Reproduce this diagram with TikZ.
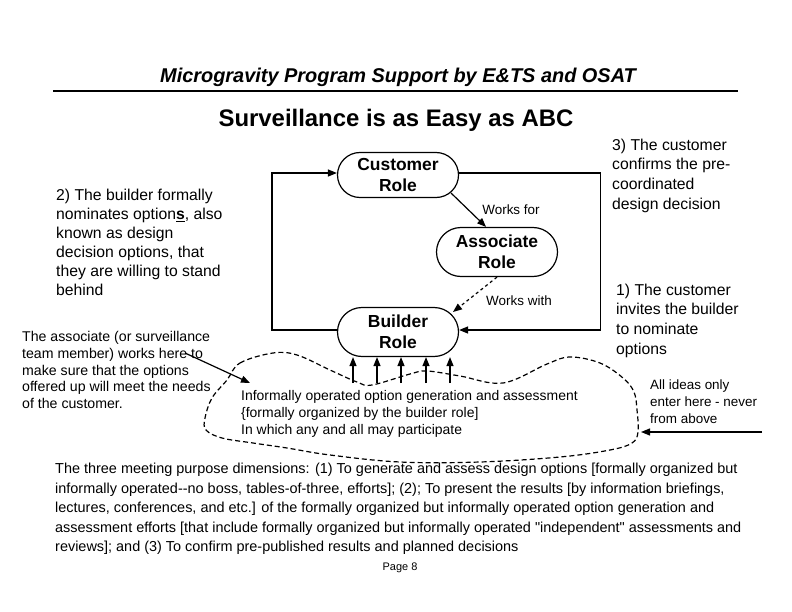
\documentclass[tikz,border=0pt]{standalone}
\usepackage{fontspec}
\setmainfont{Liberation Sans}
\usetikzlibrary{arrows.meta,shapes.misc}

\begin{document}
\begin{tikzpicture}[x=1bp,y=-1bp,
    role/.style={draw,line width=1.2bp,rounded rectangle,minimum width=121bp,
      align=center,inner sep=0pt,font=\fontsize{17.5}{21}\selectfont\bfseries},
    note/.style={anchor=west,align=left,inner sep=0pt},
    arr/.style={-{Triangle[length=9bp,width=7bp]},line width=1.2bp}]
  \useasboundingbox (0,0) rectangle (792,612);

  % Draw the page headings
  \node (heading) at (398,77) {\fontsize{20}{24}\selectfont\bfseries\itshape Microgravity Program Support by E\&TS and OSAT};
  \draw[line width=1.6bp] (53,91) -- (738,91);
  \node (topic) at (396,120) {\fontsize{24}{28}\selectfont\bfseries Surveillance is as Easy as ABC};

  % Draw the three roles
  \node[role,minimum height=45bp] (customer) at (398,175) {Customer\\Role};
  \node[role,minimum height=49bp] (associate) at (497,252) {Associate\\Role};
  \node[role,minimum height=49bp] (builder) at (398,332) {Builder\\Role};

  % Draw the loops round the roles
  \draw[arr] ([yshift=2pt]builder.west) -- ++(-65,0) |- ([yshift=2pt]customer.west);
  \draw[arr] ([yshift=2pt]customer.east) -- ++(141,0) |- ([yshift=2pt]builder.east);

  % Draw the links to the associate
  \draw[arr] ([shift={(53,18)}]customer.center) -- ([xshift=-11pt]associate.north);
  \draw[arr,dashed] (associate.south) -- ([shift={(55,-20)}]builder.center);
  \node[font=\fontsize{13.5}{16}\selectfont] (worksfor) at (511,210) {Works for};
  \node[font=\fontsize{13.5}{16}\selectfont] (workswith) at (519,301) {Works with};

  % Draw the cloud of ideas
  \draw[dashed,dash pattern=on 5bp off 3bp,line width=1.2bp] plot[smooth cycle,tension=0.6] coordinates {
    (227,380) (240,363) (273,353) (297,355) (330,370) (357,382) (372,385)
    (410,374) (427,371) (460,376) (503,383) (547,364) (570,357) (600,363)
    (623,378) (634,392) (637,410) (638,432) (632,443) (610,450) (560,457)
    (480,462) (400,462) (330,455) (287,448) (253,443) (222,438) (206,430)
    (205,418) (212,398)};
  \node[note,font=\fontsize{14}{17}\selectfont] (cloudtext) at (241,414)
    {Informally operated option generation and assessment\\
     \{formally organized by the builder role]\\
     In which any and all may participate};

  % Draw the arrows up into the builder
  \foreach \dx [count=\i] in {-45,-21,3,28,52} {
    \path (builder.south) ++(\dx,26) coordinate (idea\i);
    \draw[arr] (idea\i) -- (idea\i |- builder.south);
  }

  % Draw the notes
  \node[note,font=\fontsize{15.8}{19}\selectfont] (nominate) at (56,242.5)
    {2) The builder formally\\
     nominates option\underline{\textbf{s}}, also\\
     known as design\\
     decision options, that\\
     they are willing to stand\\
     behind};
  \node[note,font=\fontsize{14.2}{17}\selectfont] (watchnote) at (22,370)
    {The associate (or surveillance\\
     team member) works here to\\
     make sure that the options\\
     offered up will meet the needs\\
     of the customer.};
  \node[note,font=\fontsize{15.8}{19.7}\selectfont] (confirm) at (612,175.5)
    {3) The customer\\
     confirms the pre-\\
     coordinated\\
     design decision};
  \node[note,font=\fontsize{15.8}{19.7}\selectfont] (invite) at (616,320.5)
    {1) The customer\\
     invites the builder\\
     to nominate\\
     options};
  \node[note,font=\fontsize{13.5}{17}\selectfont] (ideasnote) at (650,402)
    {All ideas only\\
     enter here - never\\
     from above};

  % Draw the arrows into the cloud
  \coordinate (watch) at (185,353);
  \coordinate (cloudL) at (250,383);
  \draw[arr] (watch) -- (cloudL);
  \coordinate (ideasin) at (762,432);
  \coordinate (cloudR) at (641,432);
  \draw[arr] (ideasin) -- (cloudR);

  % Draw the purpose dimensions and the page number
  \node[note,font=\fontsize{14.5}{19.5}\selectfont] (purpose) at (55,509)
    {The three meeting purpose dimensions: (1) To generate and assess design options [formally organized but\\
     informally operated-{}-no boss, tables-of-three, efforts]; (2); To present the results [by information briefings,\\
     lectures, conferences, and etc.] of the formally organized but informally operated option generation and\\
     assessment efforts [that include formally organized but informally operated \textquotedbl independent\textquotedbl{} assessments and\\
     reviews]; and (3) To confirm pre-published results and planned decisions};
  \node[font=\fontsize{11}{13}\selectfont] (page) at (400,568) {Page 8};
\end{tikzpicture}
\end{document}
